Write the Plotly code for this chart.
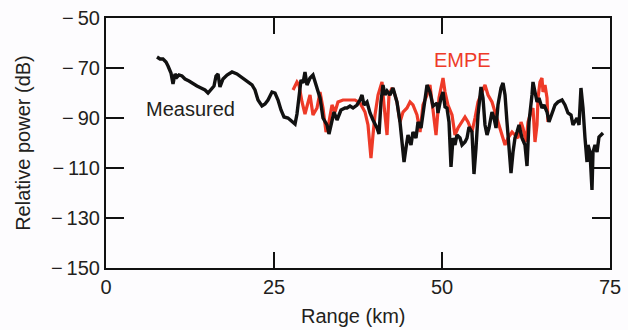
import plotly.graph_objects as go

# Measured (black) trace: range in km, relative power in dB
measured_km = [7.59, 8.04, 8.48, 8.93, 9.23, 9.67, 9.97, 10.27, 10.57, 10.86, 11.31, 11.76, 12.35, 12.95,
               13.54, 14.14, 14.73, 15.18, 15.63, 16.07, 16.37, 16.67, 16.96, 17.41, 18.01, 18.75, 19.49,
               20.09, 20.68, 21.28, 21.73, 22.17, 22.62, 23.21, 23.66, 24.11, 24.70, 25.15, 25.60, 26.04,
               26.49, 27.08, 27.68, 28.13, 28.42, 28.72, 29.02, 29.32, 29.61, 29.91, 30.36, 30.80, 31.40,
               31.85, 32.29, 32.89, 33.18, 33.63, 33.93, 34.38, 34.97, 35.57, 35.86, 36.31, 36.76, 37.35,
               37.80, 38.10, 38.39, 38.84, 39.29, 39.73, 40.33, 40.63, 40.92, 41.22, 41.52, 41.82, 42.26,
               42.71, 43.01, 43.30, 43.75, 44.05, 44.35, 44.64, 44.94, 45.39, 45.68, 46.13, 46.43, 46.88,
               47.17, 47.47, 47.77, 48.21, 48.66, 49.26, 49.40, 49.85, 50.15, 50.45, 50.74, 51.04, 51.34,
               51.64, 51.93, 52.23, 52.68, 52.98, 53.42, 53.72, 54.02, 54.46, 54.76, 55.06, 55.36, 55.80,
               56.10, 56.40, 56.70, 56.99, 57.44, 57.74, 58.04, 58.33, 58.78, 59.08, 59.38, 59.67, 59.97,
               60.27, 60.57, 60.86, 61.16, 61.46, 61.90, 62.35, 62.65, 62.95, 63.39, 63.54, 63.84, 64.14,
               64.43, 64.88, 65.18, 65.63, 65.92, 66.37, 66.82, 67.26, 67.86, 68.30, 68.75, 69.20, 69.49,
               70.09, 70.39, 70.68, 70.98, 71.28, 71.58, 71.73, 72.02, 72.32, 72.47, 72.77, 73.07, 73.36,
               73.66, 73.96]
measured_db = [-65.6, -66.4, -66.4, -67.6, -69.2, -72.0, -76.4, -72.4, -73.6, -72.8, -73.2, -74.4, -75.2, -76.4,
               -77.2, -78.0, -78.8, -80.0, -78.4, -77.2, -73.2, -72.4, -77.6, -74.4, -72.8, -71.6, -72.4,
               -73.6, -74.4, -75.6, -76.8, -78.8, -82.8, -85.2, -84.4, -82.8, -79.6, -80.0, -82.8, -86.8,
               -89.6, -90.0, -91.6, -92.4, -88.4, -80.8, -74.8, -76.0, -71.6, -76.8, -74.0, -72.8, -78.0,
               -82.0, -90.0, -92.8, -96.4, -91.6, -87.6, -90.8, -86.8, -86.0, -86.0, -85.2, -86.0, -84.8,
               -82.8, -80.8, -84.8, -83.6, -88.0, -90.8, -94.0, -96.4, -83.6, -76.8, -80.8, -79.2, -80.8,
               -78.0, -80.8, -83.6, -91.6, -100.8, -107.6, -102.0, -96.8, -100.8, -95.6, -98.0, -91.6, -94.0,
               -87.6, -82.0, -76.8, -79.6, -85.2, -84.0, -88.0, -82.0, -79.6, -85.6, -86.0, -91.6, -109.6,
               -98.0, -100.8, -96.8, -98.0, -100.8, -99.6, -98.0, -93.6, -95.6, -112.4, -102.0, -88.8, -77.6,
               -82.0, -92.8, -96.8, -94.0, -87.6, -90.0, -94.0, -84.8, -78.0, -76.0, -80.8, -91.6, -102.0,
               -112.0, -103.6, -98.0, -95.6, -92.8, -98.0, -100.8, -109.2, -91.6, -80.8, -75.6, -79.6, -83.6,
               -82.0, -86.0, -84.8, -87.6, -91.6, -88.0, -84.8, -83.6, -82.8, -84.8, -88.0, -88.8, -92.8,
               -90.0, -92.8, -78.0, -86.0, -98.0, -107.6, -100.8, -103.6, -118.8, -103.6, -100.8, -103.6, -97.6,
               -96.8, -96.0]

# EMPE model (red) trace
empe_km = [27.83, 28.42, 28.72, 29.17, 29.61, 29.91, 30.36, 30.80, 31.40, 31.85, 32.29, 32.74, 33.18, 33.63,
           34.08, 34.52, 35.27, 36.31, 37.05, 37.80, 38.54, 38.99, 39.43, 39.73, 40.03, 40.48, 41.07, 41.37,
           41.82, 42.11, 42.56, 42.86, 43.30, 43.75, 44.20, 44.79, 45.24, 45.68, 46.28, 46.73, 47.17, 47.77,
           48.21, 48.66, 49.11, 49.55, 50.15, 50.45, 50.89, 51.49, 51.93, 52.38, 52.98, 53.42, 53.87, 54.46,
           54.91, 55.36, 55.95, 56.40, 56.85, 57.44, 57.89, 58.33, 58.93, 59.38, 59.82, 60.42, 60.86, 61.31,
           61.76, 62.05, 62.50, 62.80, 63.10, 63.54, 63.84, 64.14, 64.29, 64.58, 64.88, 65.03, 65.33, 65.63,
           65.77]
empe_db = [-78.8, -75.6, -76.8, -83.6, -88.4, -84.8, -80.8, -88.8, -86.0, -79.6, -86.0, -95.6, -91.6, -84.8,
           -87.6, -83.6, -82.8, -82.8, -82.8, -84.0, -87.6, -92.8, -106.0, -96.8, -88.8, -80.8, -75.6, -84.8,
           -96.8, -80.8, -78.0, -79.6, -83.6, -91.6, -87.6, -86.0, -83.6, -84.8, -88.8, -95.6, -84.8, -80.8,
           -76.8, -86.8, -96.8, -82.0, -74.0, -79.6, -84.8, -88.8, -96.8, -94.0, -91.6, -89.6, -91.6, -95.6,
           -90.0, -83.6, -79.6, -76.8, -80.8, -83.6, -87.6, -91.6, -96.8, -100.8, -98.0, -95.6, -96.8, -98.0,
           -91.6, -94.0, -99.6, -91.6, -88.8, -86.0, -99.6, -92.8, -82.0, -75.6, -74.0, -79.6, -76.8, -82.0,
           -91.6]

x_ticks = [0, 25, 50, 75]
y_ticks = [-150, -130, -110, -90, -70, -50]
y_ticktext = ["\u2212\u2009" + str(abs(v)) for v in y_ticks]

FONT = "Liberation Sans, Arial, Helvetica, sans-serif"
TEXT = "#231f20"
RED = "#ee3a28"

fig = go.Figure()
fig.add_trace(go.Scatter(x=empe_km, y=empe_db, mode="lines",
                         line=dict(color=RED, width=3.2), showlegend=False))
fig.add_trace(go.Scatter(x=measured_km, y=measured_db, mode="lines",
                         line=dict(color="#111111", width=3.4), showlegend=False))

fig.add_annotation(x=12.57, y=-86.4, text="Measured", showarrow=False,
                   font=dict(size=20, color=TEXT, family=FONT), xanchor="center", yanchor="middle")
fig.add_annotation(x=52.98, y=-66.8, text="EMPE", showarrow=False,
                   font=dict(size=20, color=RED, family=FONT), xanchor="center", yanchor="middle")
fig.add_annotation(xref="paper", yref="paper", x=0.49, y=-0.19, text="Range (km)", showarrow=False,
                   font=dict(size=20, color=TEXT, family=FONT), xanchor="center", yanchor="middle")
fig.add_annotation(xref="paper", yref="paper", x=-0.165, y=0.5, text="Relative power (dB)",
                   textangle=-90, showarrow=False,
                   font=dict(size=20, color=TEXT, family=FONT), xanchor="center", yanchor="middle")

fig.update_xaxes(range=[0, 75], tickvals=x_ticks, ticktext=[str(v) for v in x_ticks],
                 ticks="inside", ticklen=16, tickwidth=2, tickcolor="#111111",
                 showline=True, linewidth=2, linecolor="#111111", mirror="ticks",
                 showgrid=False, zeroline=False,
                 tickfont=dict(size=20, color=TEXT, family=FONT))
fig.update_yaxes(range=[-150, -50], tickvals=y_ticks, ticktext=y_ticktext,
                 ticks="inside", ticklen=18, tickwidth=2, tickcolor="#111111",
                 showline=True, linewidth=2, linecolor="#111111", mirror="ticks",
                 showgrid=False, zeroline=False,
                 tickfont=dict(size=20, color=TEXT, family=FONT))

fig.update_layout(width=628, height=330, margin=dict(l=106, r=18, t=18, b=62, autoexpand=False),
                  paper_bgcolor="#fdfcfe", plot_bgcolor="#fdfcfe",
                  font=dict(family=FONT, color=TEXT))

fig.write_html("out.html", config={"displayModeBar": False})
